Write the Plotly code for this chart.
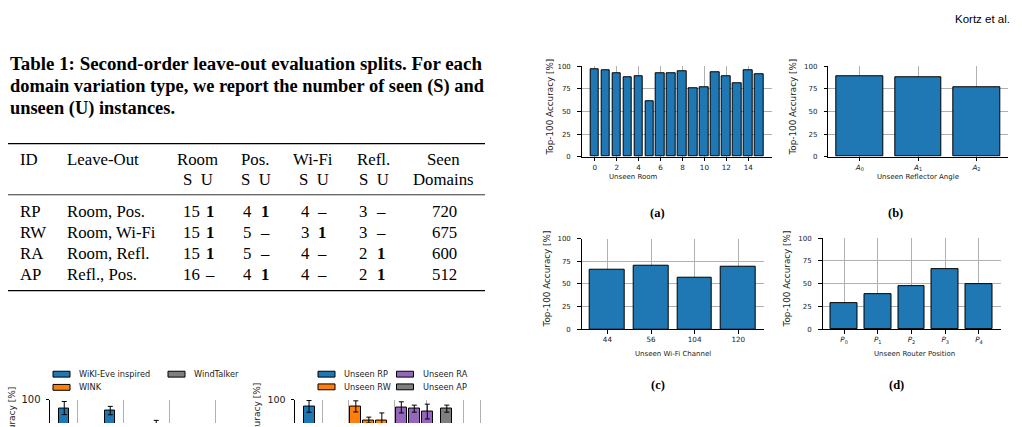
import plotly.graph_objects as go

W, H = 1022, 427


def fx(x):
    return x / W


def fy(y):
    return 1 - y / H


# ---------------- data ----------------
room_ids = list(range(16))
room_acc = [96.4, 95.7, 92.1, 87.4, 88.8, 61.2, 92.1, 92.0, 95.0, 75.9, 76.3, 93.5, 88.5, 81.7, 95.3, 91.0]

angle_labels = ["<i>A</i><sub>0</sub>", "<i>A</i><sub>1</sub>", "<i>A</i><sub>2</sub>"]
angle_acc = [89.2, 88.1, 76.3]

channel_labels = ["44", "56", "104", "120"]
channel_acc = [65.8, 69.8, 56.5, 69.1]

pos_labels = ["<i>P</i><sub>0</sub>", "<i>P</i><sub>1</sub>", "<i>P</i><sub>2</sub>",
              "<i>P</i><sub>3</sub>", "<i>P</i><sub>4</sub>"]
pos_acc = [28.9, 38.6, 46.8, 66.2, 49.0]

# bottom-left (baselines), only the visible top part
baseline_names = ["WiKI-Eve inspired", "WINK", "WindTalker"]
wikieve_x = [-0.28, 0.72, 1.72]
wikieve_acc = [91.3, 88.7, 72.0]
wikieve_err = [6.7, 4.3, 6.7]

# bottom-centre (unseen splits), only the visible top part
split_names = ["Unseen RP", "Unseen RW", "Unseen RA", "Unseen AP"]
rp_x = [0.0]
rp_acc = [93.0]
rp_err = [6.0]
rw_x = [3.6, 4.6, 5.6]
rw_acc = [93.0, 79.0, 78.7]
rw_err = [5.7, 3.0, 7.6]
ra_x = [7.1, 8.1, 9.1]
ra_acc = [92.0, 90.7, 87.7]
ra_err = [5.7, 3.6, 7.6]
ap_x = [10.6]
ap_acc = [90.7]
ap_err = [3.6]

# table
tab_ids = ["RP", "RW", "RA", "AP"]
tab_leave = ["Room, Pos.", "Room, Wi-Fi", "Room, Refl.", "Refl., Pos."]
room_s = ["15", "15", "15", "16"]
room_u = ["1", "1", "1", "–"]
pos_s = ["4", "5", "5", "4"]
pos_u = ["1", "–", "–", "1"]
wifi_s = ["4", "3", "4", "4"]
wifi_u = ["–", "1", "–", "–"]
refl_s = ["3", "3", "2", "2"]
refl_u = ["–", "–", "1", "1"]
seen_domains = ["720", "675", "600", "512"]

BLUE = "#1f77b4"
ORANGE = "#ff7f0e"
PURPLE = "#9467bd"
GRAY = "#7f7f7f"
GRID = "#b0b0b0"
SANS = "DejaVu Sans"
SERIF = "Liberation Serif"
INK = "#1a1a1a"

fig = go.Figure()
layout = dict(
    width=W, height=H, margin=dict(l=0, r=0, t=0, b=0),
    paper_bgcolor="white", plot_bgcolor="white", showlegend=False,
    bargap=0, annotations=[], shapes=[],
)


def axes(n, x0, x1, ytop, ybot, xr, yr, tickvals=None, ticktext=None,
         xline=True, ytickfont=7, xgridvals=None, ystandoff=5):
    xk = "xaxis" if n == 1 else f"xaxis{n}"
    yk = "yaxis" if n == 1 else f"yaxis{n}"
    ya = "y" if n == 1 else f"y{n}"
    xa = "x" if n == 1 else f"x{n}"
    layout[xk] = dict(
        domain=[fx(x0), fx(x1)], range=xr, anchor=ya,
        showline=xline, linecolor="black", linewidth=1,
        ticks="outside" if xline else "", ticklen=3.5, tickwidth=0.8, tickcolor="black",
        showgrid=True, gridcolor=GRID, gridwidth=0.8, zeroline=False,
        tickmode="array", tickvals=tickvals if tickvals is not None else xgridvals,
        ticktext=ticktext, showticklabels=xline,
        tickfont=dict(family=SANS, size=7.2, color=INK),
    )
    layout[yk] = dict(
        domain=[fy(ybot), fy(ytop)], range=yr, anchor=xa,
        showline=True, linecolor="black", linewidth=1,
        ticks="outside", ticklen=3.5, tickwidth=0.8, tickcolor="black",
        showgrid=True, gridcolor=GRID, gridwidth=0.8, zeroline=False,
        tickmode="array", tickvals=[0, 25, 50, 75, 100],
        ticklabelstandoff=ystandoff,
        tickfont=dict(family=SANS, size=ytickfont, color=INK),
    )
    return xa, ya


def bars(xa, ya, x, y, color, err=None, width=0.8):
    kw = {}
    if err is not None:
        kw["error_y"] = dict(type="data", array=err, color="black", thickness=1, width=2.5)
    fig.add_trace(go.Bar(x=x, y=y, xaxis=xa, yaxis=ya, width=width,
                         marker=dict(color=color, line=dict(color="black", width=1)), **kw))


def text(x, y, s, size, family=SANS, anchor="center", angle=0, color=INK, yanchor="middle"):
    layout["annotations"].append(dict(
        x=fx(x), y=fy(y), xref="paper", yref="paper", text=s, showarrow=False,
        xanchor=anchor, yanchor=yanchor, textangle=angle,
        font=dict(family=family, size=size, color=color)))


XT = 7.0  # x-axis title size

# ---------------- (a) unseen room ----------------
xa, ya = axes(1, 581.7, 772.3, 61.7, 154.3, [-1.19, 16.19], [0, 100],
              tickvals=list(range(0, 16, 2)), ticktext=[str(v) for v in range(0, 16, 2)])
bars(xa, ya, room_ids, room_acc, BLUE)
text(633, 175.5, "Unseen Room", XT)
text(550, 104, "Top-100 Accuracy [%]", 8.8, angle=-90)
text(657, 212, "<b>(a)</b>", 12.5, SERIF, color="black")

# ---------------- (b) reflector angle ----------------
xa, ya = axes(2, 828.3, 1008, 61.7, 154.3, [-0.54, 2.54], [0, 100],
              tickvals=[0, 1, 2], ticktext=angle_labels)
bars(xa, ya, [0, 1, 2], angle_acc, BLUE)
text(918, 175.5, "Unseen Reflector Angle", XT)
text(793, 104, "Top-100 Accuracy [%]", 8.8, angle=-90)
text(895, 212, "<b>(b)</b>", 12.5, SERIF, color="black")

# ---------------- (c) wifi channel ----------------
xa, ya = axes(3, 581.7, 764, 238.3, 331, [-0.59, 3.59], [0, 100],
              tickvals=[0, 1, 2, 3], ticktext=channel_labels)
bars(xa, ya, [0, 1, 2, 3], channel_acc, BLUE)
text(673, 356, "Unseen Wi-Fi Channel", XT)
text(547, 280, "Top-100 Accuracy [%]", 8.8, angle=-90)
text(658, 388, "<b>(c)</b>", 12.5, SERIF, color="black")

# ---------------- (d) router position ----------------
xa, ya = axes(4, 822.5, 1000.5, 237.7, 331, [-0.64, 4.64], [0, 100],
              tickvals=[0, 1, 2, 3, 4], ticktext=pos_labels)
bars(xa, ya, [0, 1, 2, 3, 4], pos_acc, BLUE)
text(914, 356.5, "Unseen Router Position", XT)
text(787, 280, "Top-100 Accuracy [%]", 8.8, angle=-90)
text(896, 388, "<b>(d)</b>", 12.5, SERIF, color="black")

# ---------------- bottom-left (cropped) ----------------
xa, ya = axes(5, 50, 245, 403, 427, [-0.59, 3.65], [76, 100], xline=False,
              ytickfont=10, xgridvals=[0, 1, 2, 3], ystandoff=3)
bars(xa, ya, wikieve_x, wikieve_acc, BLUE, err=wikieve_err, width=0.22)
text(12, 441, "Top-100 Accuracy [%]", 9, angle=-90)

# ---------------- bottom-centre (cropped) ----------------
xa, ya = axes(6, 295, 488, 403, 427, [-1.08, 13.77], [76, 100], xline=False,
              ytickfont=9.5, xgridvals=[1.05, 3.0, 6.6, 9.0, 11.9, 13.2], ystandoff=3)
bars(xa, ya, rp_x, rp_acc, BLUE, err=rp_err, width=0.85)
bars(xa, ya, rw_x, rw_acc, ORANGE, err=rw_err, width=0.85)
bars(xa, ya, ra_x, ra_acc, PURPLE, err=ra_err, width=0.85)
bars(xa, ya, ap_x, ap_acc, GRAY, err=ap_err, width=0.85)
text(257, 437, "Top-100 Accuracy [%]", 9, angle=-90)


# legends (drawn as swatches + text)
def swatch(x0, yc, color, label):
    layout["shapes"].append(dict(type="rect", xref="paper", yref="paper",
                                 x0=fx(x0), x1=fx(x0 + 17), y0=fy(yc + 3), y1=fy(yc - 3),
                                 fillcolor=color, line=dict(color="black", width=1)))
    text(x0 + 24, yc, label, 8.2, anchor="left")


swatch(53, 377, BLUE, baseline_names[0])
swatch(53, 390.5, ORANGE, baseline_names[1])
swatch(168, 377, GRAY, baseline_names[2])
swatch(318, 377, BLUE, split_names[0])
swatch(318, 390, ORANGE, split_names[1])
swatch(396.5, 377, PURPLE, split_names[2])
swatch(396.5, 390, GRAY, split_names[3])

# ---------------- header ----------------
text(1012, 13, "Kortz et al.", 11.5, "Liberation Sans", anchor="right", color="black")

# ---------------- table ----------------
title_lines = ["Table 1: Second-order leave-out evaluation splits. For each",
               "domain variation type, we report the number of seen (S) and",
               "unseen (U) instances."]
title_sizes = [18.9, 18.4, 18.4]
for ln, yy, sz in zip(title_lines, [59, 82.5, 105], title_sizes):
    text(8, yy, f"<b>{ln}</b>", sz, SERIF, anchor="left", color="black")

for y0, w in [(141, 1.3), (193.3, 0.8), (291.5, 1.3)]:
    layout["shapes"].append(dict(type="line", xref="paper", yref="paper",
                                 x0=fx(8), x1=fx(485), y0=fy(y0), y1=fy(y0),
                                 line=dict(color="black", width=w)))

TS = 16.8
text(18, 157, "ID", TS, SERIF, anchor="left", color="black")
text(65, 157, "Leave-Out", TS, SERIF, anchor="left", color="black")
for name, cx in [("Room", 197), ("Pos.", 255), ("Wi-Fi", 313), ("Refl.", 373)]:
    text(cx, 157, name, TS, SERIF, color="black")
    text(cx + 1, 178, "S  U", TS, SERIF, color="black")
text(443, 157, "Seen", TS, SERIF, color="black")
text(443, 178, "Domains", TS, SERIF, color="black")


def cell(v):
    return "<b>1</b>" if v == "1" else v


row_y = [210.5, 232, 253.5, 275]
for i, yy in enumerate(row_y):
    text(18, yy, tab_ids[i], TS, SERIF, anchor="left", color="black")
    text(65, yy, tab_leave[i], TS, SERIF, anchor="left", color="black")
    for (s_list, u_list, sx, ux) in [(room_s, room_u, 191, 210), (pos_s, pos_u, 247, 265),
                                     (wifi_s, wifi_u, 305, 322), (refl_s, refl_u, 363, 381)]:
        text(sx, yy, s_list[i], TS, SERIF, color="black")
        text(ux, yy, cell(u_list[i]), TS, SERIF, color="black")
    text(444, yy, seen_domains[i], TS, SERIF, color="black")

fig.update_layout(**layout)
fig.write_html("out.html")
